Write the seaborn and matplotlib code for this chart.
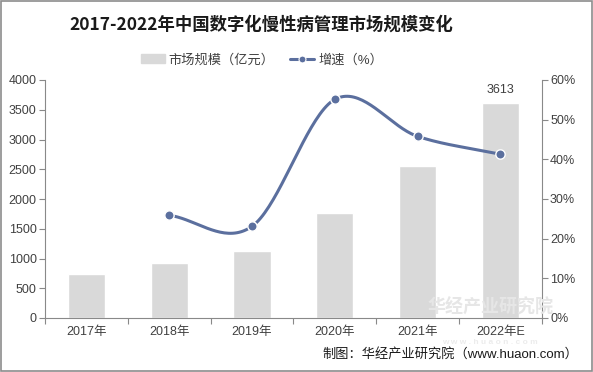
import numpy as np
import pandas as pd
import matplotlib
matplotlib.use("Agg")
import matplotlib.pyplot as plt
import seaborn as sns
from matplotlib.lines import Line2D
from matplotlib.patches import Patch, Rectangle

years = ["2017年", "2018年", "2019年", "2020年", "2021年", "2022年E"]
market_size = [739, 930, 1126, 1765, 2555, 3613]
growth_years = ["2018年", "2019年", "2020年", "2021年", "2022年E"]
growth_rate = [25.9, 23.1, 55.1, 45.8, 41.3]

title = "2017-2022年中国数字化慢性病管理市场规模变化"
legend_bar = "市场规模（亿元）"
legend_line = "增速（%）"
source = "制图：华经产业研究院（www.huaon.com）"

sns.set_theme(style="white")
plt.rcParams['font.family'] = ['Liberation Sans', 'Noto Sans CJK SC', 'DejaVu Sans']

bar_color = "#d9d9d9"
line_color = "#5b6f9e"
axis_color = "#898989"
text_color = "#404040"

fig = plt.figure(figsize=(5.93, 3.72), dpi=100)
ax = fig.add_axes([45/593, 1-318/372, (541.7-45)/593, (318-80)/372])

df = pd.DataFrame({"year": years, "size": market_size})
sns.barplot(data=df, x="year", y="size", color=bar_color, width=0.45,
            saturation=1, ax=ax, order=years)
ax.set_ylim(0, 4000)
ax.set_yticks(range(0, 4001, 500))
ax.set_xlim(-0.5, len(years)-0.5)
ax.set_xlabel("")
ax.set_ylabel("")
ax.set_xticks(range(len(years)))
ax.set_xticklabels(years)
ax.tick_params(axis='x', length=0, labelsize=9, colors=text_color, pad=6)
ax.tick_params(axis='y', length=4, width=0.8, color=axis_color, labelsize=9,
               colors=text_color, left=True, direction='out', pad=2)
ax.yaxis.set_tick_params(color=axis_color)
# category boundary ticks
ax.set_xticks(np.arange(-0.5, len(years), 1), minor=True)
ax.tick_params(axis='x', which='minor', length=4, width=0.8, color=axis_color,
               bottom=True, direction='out')
for s in ["top", "right"]:
    ax.spines[s].set_visible(False)
for s in ["left", "bottom"]:
    ax.spines[s].set_color(axis_color)
    ax.spines[s].set_linewidth(0.8)

# value label
ax.text(5, market_size[-1] + 120, f"{market_size[-1]}", ha="center", va="bottom",
        fontsize=9, color=text_color)

ax2 = ax.twinx()
pos = np.array([years.index(y) for y in growth_years], dtype=float)
vals = np.array(growth_rate, dtype=float)

# Catmull-Rom style smoothing for the drawn curve (Excel smoothed line)
P = np.column_stack([pos, vals])
Pext = np.vstack([P[0] - (P[1] - P[0]), P, P[-1] + (P[-1] - P[-2])])
curve = []
for i in range(1, len(Pext) - 2):
    p0, p1, p2, p3 = Pext[i-1], Pext[i], Pext[i+1], Pext[i+2]
    c1 = p1 + (p2 - p0) / 6
    c2 = p2 - (p3 - p1) / 6
    t = np.linspace(0, 1, 40)[:, None]
    seg = (1-t)**3*p1 + 3*(1-t)**2*t*c1 + 3*(1-t)*t**2*c2 + t**3*p2
    curve.append(seg)
curve = np.vstack(curve)
ax2.plot(curve[:, 0], curve[:, 1], color=line_color, lw=2.2, solid_capstyle='round', zorder=3)
sns.scatterplot(x=pos, y=vals, ax=ax2, color=line_color, s=45, edgecolor="white",
                linewidth=1.0, zorder=4, legend=False)
ax2.set_ylim(0, 60)
ax2.set_yticks(range(0, 61, 10))
ax2.set_yticklabels([f"{v}%" for v in range(0, 61, 10)])
ax2.set_xlim(-0.5, len(years)-0.5)
ax2.tick_params(axis='y', length=4, width=0.8, color=axis_color, labelsize=9,
                colors=text_color, right=True, direction='out', pad=2)
for s in ["top", "left", "bottom"]:
    ax2.spines[s].set_visible(False)
ax2.spines["right"].set_color(axis_color)
ax2.spines["right"].set_linewidth(0.8)
ax2.set_ylabel("")
ax2.grid(False)
ax.grid(False)

# title
fig.text(261/593, 1-25/372, title, ha="center", va="center", fontsize=12.5,
         fontweight="bold", color="#1a1a1a", family=['Noto Sans CJK SC', 'DejaVu Sans'])

# legend
handles = [Patch(facecolor=bar_color, edgecolor=bar_color),
           Line2D([0], [0], color=line_color, lw=2.2, marker="o", markersize=5,
                  markeredgecolor="white", markeredgewidth=0.8)]
fig.legend(handles, [legend_bar, legend_line], loc="center", ncol=2,
           bbox_to_anchor=(262/593, 1-60/372), frameon=False, fontsize=9.5,
           handlelength=1.8, handleheight=0.7, columnspacing=1.2, handletextpad=0.3,
           labelcolor=text_color)

# watermark
fig.text(490/593, 1-307/372, "华经产业研究院", ha="center", va="center", fontsize=13,
         fontweight="bold", color="#e6e6e6", zorder=0,
         family=['Noto Sans CJK SC', 'DejaVu Sans'])
fig.text(490/593, 1-343/372, "w w w . h u a o n . c o m", ha="center", va="center", fontsize=6,
         fontweight="bold", color="#ececec", zorder=0)

# source
fig.text(578/593, 1-354/372, source, ha="right", va="center", fontsize=9.5,
         color="#1a1a1a")

# border
fig.patches.append(Rectangle((0.001, 0.002), 0.997, 0.995, transform=fig.transFigure,
                             fill=False, edgecolor="#8c8c8c", lw=1.2))

fig.savefig("out.png", dpi=100)
